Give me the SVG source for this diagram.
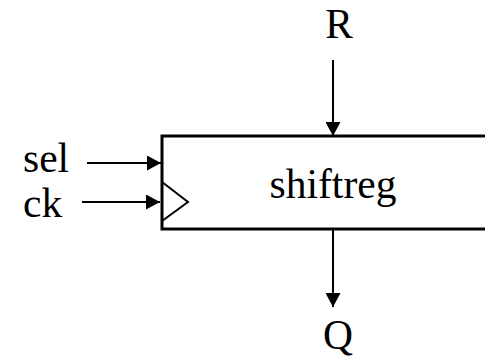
<svg xmlns="http://www.w3.org/2000/svg" width="485" height="358" viewBox="0 0 485 358">
<style>
.t{font-family:"Liberation Serif","Times New Roman",serif;font-size:41.5px;fill:#000}
.w{stroke:#000;stroke-width:2;fill:none}
</style>
<defs>
<marker id="ah" markerWidth="15" markerHeight="15" refX="14" refY="7.5" orient="auto" markerUnits="userSpaceOnUse">
<path d="M0,0 L14,7.5 L0,15 Z" fill="#000"/>
</marker>
</defs>
<g id="shiftreg">
<rect x="162" y="136" width="330" height="93" fill="#fff" stroke="#000" stroke-width="3"/>
<polyline points="162,182 188,202 162,221" fill="none" stroke="#000" stroke-width="2"/>
<text class="t" x="333" y="198" text-anchor="middle">shiftreg</text>
</g>
<g id="sel"><text class="t" x="23" y="172">sel</text></g>
<g id="ck"><text class="t" x="23" y="217">ck</text></g>
<g id="R"><text class="t" x="339" y="38" text-anchor="middle">R</text></g>
<g id="Q"><text class="t" x="338" y="349" text-anchor="middle">Q</text></g>
<g id="connectors">
<line class="w" x1="87" y1="163" x2="161" y2="163" marker-end="url(#ah)"/>
<line class="w" x1="82" y1="202" x2="160" y2="202" marker-end="url(#ah)"/>
<line class="w" x1="333" y1="60" x2="333" y2="136" marker-end="url(#ah)"/>
<line class="w" x1="333" y1="230" x2="333" y2="307" marker-end="url(#ah)"/>
</g>
</svg>
